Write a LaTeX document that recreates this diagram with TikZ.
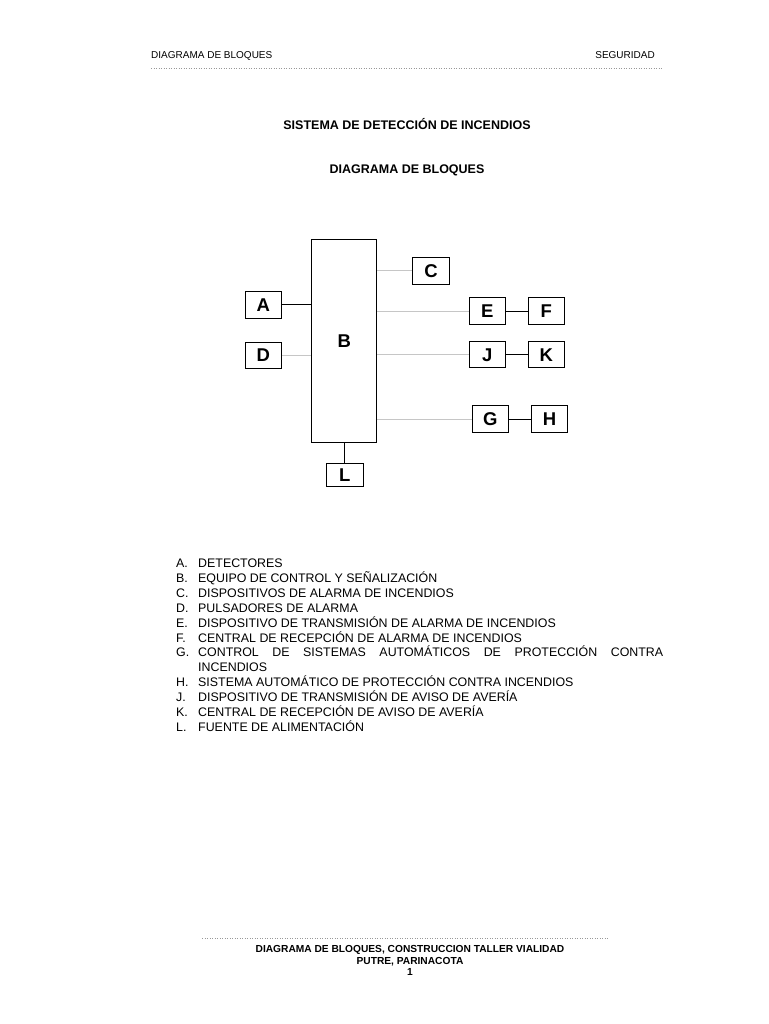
\documentclass[tikz,border=0pt]{standalone}
\usepackage{fontspec}
\setmainfont{Liberation Sans}
\usetikzlibrary{positioning}

\begin{document}
\begin{tikzpicture}[x=1pt, y=-1pt,
    blk/.style={draw, line width=0.8pt, minimum width=36.5pt, minimum height=27pt, inner sep=0pt, font=\fontsize{18.5}{18}\selectfont\bfseries},
    wire/.style={line width=0.7pt},
    fwire/.style={line width=0.7pt, color=gray!45},
    sep/.style={dotted, line width=0.5pt, color=gray!80},
    head/.style={anchor=base, inner sep=0pt, font=\fontsize{10}{12}\selectfont},
    ttl/.style={anchor=base, inner sep=0pt, font=\fontsize{12.5}{14}\selectfont\bfseries},
    foot/.style={anchor=base, inner sep=0pt, font=\fontsize{10.2}{11}\selectfont\bfseries},
    lkey/.style={anchor=base west, inner sep=0pt, font=\fontsize{12.4}{14}\selectfont},
]
  \useasboundingbox (0,0) rectangle (768,1024);

  % === Header ===
  \node[head, anchor=base west] (hl) at (151, 59) {DIAGRAMA DE BLOQUES};
  \node[head, anchor=base east] (hr) at (655, 59) {SEGURIDAD};
  \draw[sep] (151, 68) -- (663, 68);

  % === Titles ===
  \node[ttl] (t1) at (407, 129.5) {SISTEMA DE DETECCIÓN DE INCENDIOS};
  \node[ttl] (t2) at (407, 173.5) {DIAGRAMA DE BLOQUES};

  % === Blocks ===
  \node[blk, minimum width=65pt, minimum height=203pt] (B) at (344.2, 341.3) {B};
  \node[blk] (A) at (263.3, 304.7) {A};
  \node[blk, minimum height=26pt] (D) at (263.3, 355.3) {D};
  \node[blk] (C) at (431, 270.7) {C};
  \node[blk] (E) at (487.3, 311.2) {E};
  \node[blk] (F) at (546.3, 311.2) {F};
  \node[blk, minimum height=26pt] (J) at (487.3, 354.8) {J};
  \node[blk, minimum height=26pt] (K) at (546.3, 354.8) {K};
  \node[blk] (G) at (490.3, 419.3) {G};
  \node[blk] (H) at (549.5, 419.3) {H};
  \node[blk, minimum height=23.5pt] (L) at (344.7, 475) {L};

  % === Connectors ===
  \draw[wire] (A.east) -- (A.east -| B.west);
  \draw[fwire] (D.east) -- (D.east -| B.west);
  \draw[fwire] (C.west -| B.east) -- (C.west);
  \draw[fwire] (E.west -| B.east) -- (E.west);
  \draw[fwire] (J.west -| B.east) -- (J.west);
  \draw[fwire] (G.west -| B.east) -- (G.west);
  \draw[wire] (E.east) -- (F.west);
  \draw[wire] (J.east) -- (K.west);
  \draw[wire] (G.east) -- (H.west);
  \draw[wire] (B.south -| L.north) -- (L.north);

  % === Legend ===
  \foreach \k/\txt [count=\i from 0] in {
      A/DETECTORES,
      B/EQUIPO DE CONTROL Y SEÑALIZACIÓN,
      C/DISPOSITIVOS DE ALARMA DE INCENDIOS,
      D/PULSADORES DE ALARMA,
      E/DISPOSITIVO DE TRANSMISIÓN DE ALARMA DE INCENDIOS,
      F/CENTRAL DE RECEPCIÓN DE ALARMA DE INCENDIOS,
      G/{\hbox to 465pt{CONTROL\hfill DE\hfill SISTEMAS\hfill AUTOMÁTICOS\hfill DE\hfill PROTECCIÓN\hfill CONTRA}},
      H/SISTEMA AUTOMÁTICO DE PROTECCIÓN CONTRA INCENDIOS,
      J/DISPOSITIVO DE TRANSMISIÓN DE AVISO DE AVERÍA,
      K/CENTRAL DE RECEPCIÓN DE AVISO DE AVERÍA,
      L/FUENTE DE ALIMENTACIÓN} {
    \pgfmathsetmacro{\yy}{567.5 + 14.9*(\i + (\i > 6))}
    \node[lkey] (k\k) at (176, \yy) {\k.};
    \node[lkey] (d\k) at (198, \yy) {\txt};
  }
  \node[lkey] (dG2) at (198, 567.5 + 14.9*7) {INCENDIOS};

  % === Footer ===
  \draw[sep] (202, 938) -- (609, 938);
  \node[foot] (f1) at (410, 952) {DIAGRAMA DE BLOQUES, CONSTRUCCION TALLER VIALIDAD};
  \node[foot] (f2) at (410, 964) {PUTRE, PARINACOTA};
  \node[foot] (f3) at (410, 975.5) {1};
\end{tikzpicture}
\end{document}
